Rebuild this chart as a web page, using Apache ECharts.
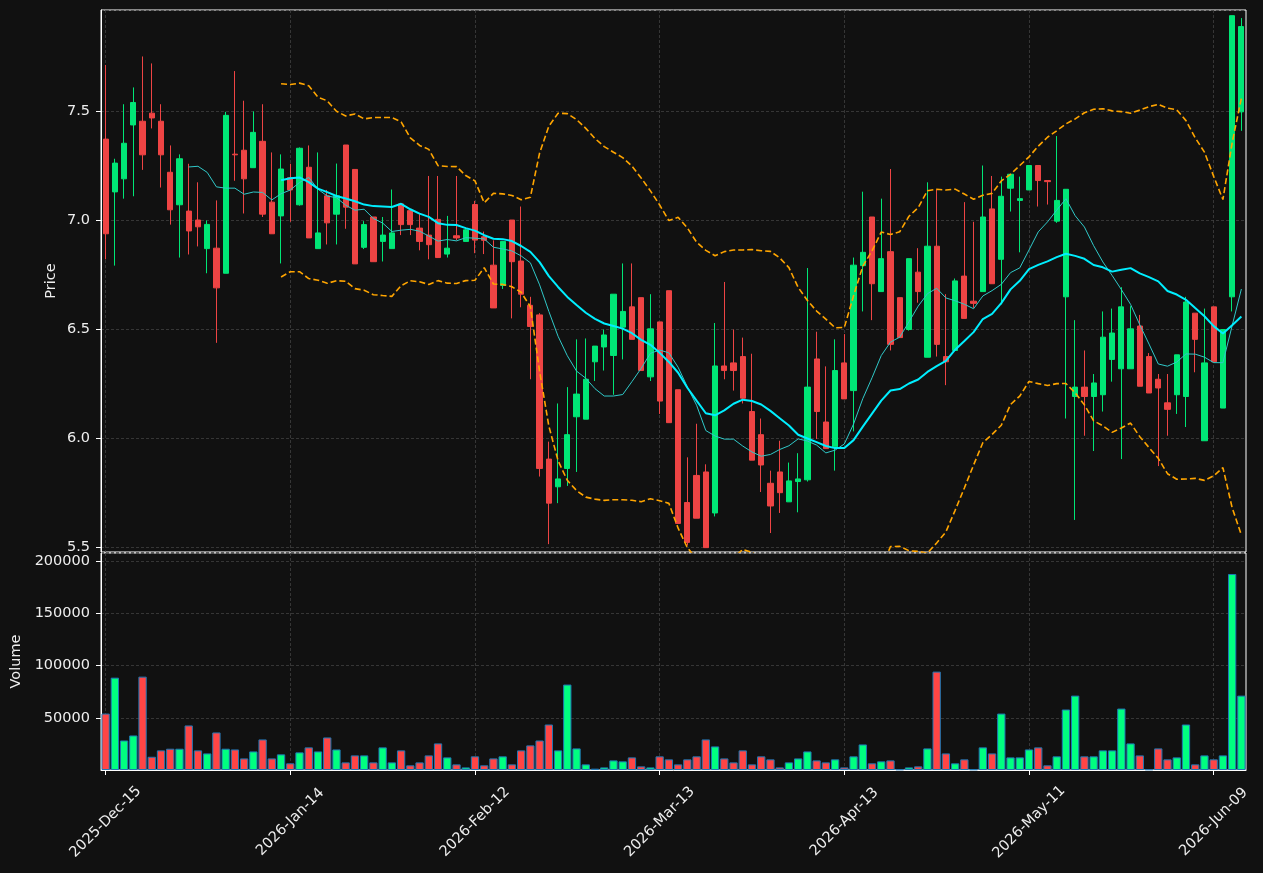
<!DOCTYPE html>
<html><head><meta charset="utf-8">
<script src="https://cdn.jsdelivr.net/npm/echarts@6/dist/echarts.min.js"></script>
<style>html,body{margin:0;padding:0;background:#111111;}#c{width:1263px;height:873px;}</style>
</head><body><div id="c"></div>
<script>
const dates = [
"2025-Dec-15","2025-Dec-16","2025-Dec-17","2025-Dec-18","2025-Dec-19","2025-Dec-22","2025-Dec-23","2025-Dec-24","2025-Dec-26","2025-Dec-29","2025-Dec-30","2025-Dec-31",
"2026-Jan-02","2026-Jan-05","2026-Jan-06","2026-Jan-07","2026-Jan-08","2026-Jan-09","2026-Jan-12","2026-Jan-13","2026-Jan-14","2026-Jan-15","2026-Jan-16",
"2026-Jan-20","2026-Jan-21","2026-Jan-22","2026-Jan-23","2026-Jan-26","2026-Jan-27","2026-Jan-28","2026-Jan-29","2026-Jan-30",
"2026-Feb-02","2026-Feb-03","2026-Feb-04","2026-Feb-05","2026-Feb-06","2026-Feb-09","2026-Feb-10","2026-Feb-11","2026-Feb-12","2026-Feb-13",
"2026-Feb-17","2026-Feb-18","2026-Feb-19","2026-Feb-20","2026-Feb-23","2026-Feb-24","2026-Feb-25","2026-Feb-26","2026-Feb-27",
"2026-Mar-02","2026-Mar-03","2026-Mar-04","2026-Mar-05","2026-Mar-06","2026-Mar-09","2026-Mar-10","2026-Mar-11","2026-Mar-12","2026-Mar-13",
"2026-Mar-16","2026-Mar-17","2026-Mar-18","2026-Mar-19","2026-Mar-20","2026-Mar-23","2026-Mar-24","2026-Mar-25","2026-Mar-26","2026-Mar-27",
"2026-Mar-30","2026-Mar-31","2026-Apr-01","2026-Apr-02","2026-Apr-06","2026-Apr-07","2026-Apr-08","2026-Apr-09","2026-Apr-10","2026-Apr-13",
"2026-Apr-14","2026-Apr-15","2026-Apr-16","2026-Apr-17","2026-Apr-20","2026-Apr-21","2026-Apr-22","2026-Apr-23","2026-Apr-24",
"2026-Apr-27","2026-Apr-28","2026-Apr-29","2026-Apr-30","2026-May-01","2026-May-04","2026-May-05","2026-May-06","2026-May-07","2026-May-08","2026-May-11",
"2026-May-12","2026-May-13","2026-May-14","2026-May-15","2026-May-18","2026-May-19","2026-May-20","2026-May-21","2026-May-22",
"2026-May-26","2026-May-27","2026-May-28","2026-May-29","2026-Jun-01","2026-Jun-02","2026-Jun-03","2026-Jun-04","2026-Jun-05","2026-Jun-08","2026-Jun-09",
"2026-Jun-10","2026-Jun-11","2026-Jun-12"];

const opens = [7.373,7.131,7.191,7.438,7.455,7.492,7.455,7.221,7.072,7.043,7.002,6.871,6.873,6.758,7.304,7.322,7.242,7.363,7.084,7.021,
7.196,7.072,7.244,6.871,7.113,7.029,7.346,7.234,6.877,7.016,6.904,6.871,7.076,7.045,6.965,6.933,7.005,6.846,6.930,6.904,
7.073,6.925,6.795,6.702,7.002,6.814,6.611,6.567,5.906,5.779,5.863,6.100,6.089,6.352,6.420,6.381,6.511,6.604,6.646,6.283,
6.535,6.678,6.224,5.707,5.831,5.847,5.659,6.333,6.347,6.376,6.124,6.018,5.795,5.847,5.710,5.803,5.811,6.365,6.076,5.962,
6.347,6.220,6.793,7.016,6.674,6.857,6.646,6.500,6.763,6.373,6.882,6.376,6.404,6.745,6.630,6.674,7.053,6.822,7.148,7.092,
7.140,7.252,7.183,6.997,6.650,6.193,6.236,6.193,6.201,6.363,6.320,6.320,6.516,6.376,6.272,6.164,6.201,6.193,6.575,5.990,
6.604,6.140,6.650,7.498];
const closes = [6.939,7.263,7.354,7.541,7.301,7.470,7.301,7.049,7.283,6.952,6.971,6.982,6.691,7.482,7.301,7.191,7.404,7.029,6.939,7.236,
7.140,7.331,6.920,6.943,6.989,7.113,7.061,6.801,6.981,6.811,6.933,6.943,6.981,6.981,6.904,6.889,6.830,6.873,6.920,6.957,
6.910,6.909,6.599,6.904,6.811,6.662,6.514,5.863,5.704,5.815,6.018,6.204,6.272,6.424,6.475,6.662,6.583,6.455,6.312,6.503,
6.172,6.073,5.611,5.524,5.635,5.500,6.333,6.312,6.312,6.185,5.901,5.879,5.691,5.752,5.806,5.815,6.236,6.124,5.954,6.312,
6.182,6.795,6.854,6.710,6.825,6.432,6.463,6.825,6.674,6.882,6.432,6.352,6.723,6.551,6.620,7.016,6.710,7.111,7.212,7.100,
7.252,7.183,7.178,7.092,7.143,6.236,6.193,6.255,6.465,6.484,6.604,6.503,6.240,6.209,6.232,6.134,6.384,6.626,6.455,6.347,
6.352,6.500,7.939,7.889];
const lows = [6.822,6.793,7.100,7.111,7.232,7.422,7.151,6.981,6.830,6.844,6.881,6.758,6.439,6.758,7.182,7.032,7.242,7.016,6.939,6.803,
6.994,7.068,6.920,6.871,6.890,6.890,6.962,6.801,6.869,6.811,6.812,6.871,6.933,6.933,6.863,6.822,6.830,6.830,6.909,6.904,
6.850,6.846,6.599,6.686,6.551,6.602,6.272,5.826,5.516,5.704,5.783,5.847,6.089,6.264,6.312,6.201,6.363,6.455,6.312,6.264,
6.113,6.073,5.611,5.510,5.635,5.500,5.643,6.272,6.220,6.161,5.901,5.755,5.567,5.659,5.710,5.662,5.803,5.998,5.954,5.853,
6.182,6.033,6.583,6.543,6.674,6.404,6.463,6.495,6.623,6.373,6.376,6.245,6.404,6.551,6.599,6.674,6.710,6.615,7.041,6.854,
7.140,7.064,7.073,6.989,6.092,5.627,6.013,5.943,6.124,6.261,5.906,6.320,6.240,6.209,5.874,6.013,6.113,6.053,6.304,5.990,
6.352,6.140,6.583,7.411];
const highs = [7.713,7.283,7.533,7.610,7.752,7.720,7.533,7.344,7.303,7.260,7.175,7.000,7.092,7.498,7.685,7.549,7.500,7.533,7.312,7.303,
7.260,7.335,7.344,7.312,7.140,7.261,7.346,7.234,6.997,7.016,7.016,7.142,7.076,7.053,7.029,7.204,7.204,7.021,7.204,6.965,
7.090,6.949,6.909,6.904,7.002,7.064,6.650,6.575,5.986,6.161,6.236,6.455,6.459,6.424,6.500,6.662,6.803,6.803,6.646,6.662,
6.535,6.678,6.224,5.914,6.068,5.882,6.530,6.718,6.500,6.463,6.389,6.092,5.853,5.990,5.890,5.933,6.782,6.490,6.331,6.455,
6.479,6.830,7.132,7.016,7.100,7.236,6.646,6.825,6.873,7.175,7.143,6.662,6.734,7.084,6.994,7.252,7.204,7.201,7.212,7.201,
7.252,7.252,7.183,7.387,7.143,6.543,6.404,6.296,6.583,6.596,6.694,6.607,6.567,6.392,6.296,6.296,6.384,6.650,6.575,6.596,
6.604,6.500,7.939,7.928];
const volumes = [54100,88500,28300,33100,89500,12700,18800,20400,20400,42700,18800,15900,36000,20400,19700,11100,17800,29300,11100,15000,
6400,16900,21700,17800,31200,19700,7300,14000,14000,7300,21700,7300,18800,4500,7300,14000,25500,12100,5400,2500,
13100,4500,11100,13100,5400,18800,23600,28300,43600,18800,81900,20700,5400,1300,2500,9200,8300,12100,3500,2500,
13100,10200,5400,10200,13100,29300,22600,11100,7300,18800,5400,13100,10200,2500,7300,11100,17800,9200,7300,10200,
2500,13100,24500,6400,8300,9200,600,2500,3500,20700,94300,15900,6400,10200,600,21700,15900,54100,12100,12100,
19700,21700,4500,13100,58000,71300,13100,13100,18800,18800,58900,25500,14000,600,20700,10200,12100,43600,5400,14000,
10200,14000,187900,71300];

// indicator lines derived from the closes (rolling mean / Bollinger, population std)
function sma(arr, n) {
  return arr.map((v, i) => {
    if (i < n - 1) return '-';
    let s = 0; for (let k = i - n + 1; k <= i; k++) s += arr[k];
    return +(s / n).toFixed(4);
  });
}
function band(arr, n, mult) {
  return arr.map((v, i) => {
    if (i < n - 1) return '-';
    let s = 0; for (let k = i - n + 1; k <= i; k++) s += arr[k];
    const m = s / n; let q = 0;
    for (let k = i - n + 1; k <= i; k++) q += (arr[k] - m) * (arr[k] - m);
    return +(m + mult * Math.sqrt(q / n)).toFixed(4);
  });
}
const ma10 = sma(closes, 10), ma20 = sma(closes, 20);
const bbUp = band(closes, 20, 2), bbLo = band(closes, 20, -2);

const candleData = opens.map((o, i) => [o, closes[i], lows[i], highs[i]]);
const volData = volumes.map((v, i) => ({
  value: v,
  itemStyle: { color: closes[i] >= opens[i] ? '#00ff80' : '#ff4545' }
}));

const FONT = 'DejaVu Sans';
const FS = 14.5;
const gridLine = { show: true, lineStyle: { color: '#404040', type: [3, 2], width: 0.8 } };
const chart = echarts.init(document.getElementById('c'), null, { renderer: 'canvas' });
chart.setOption({
  backgroundColor: '#111111',
  animation: false,
  textStyle: { fontFamily: FONT },
  grid: [
    { left: 101, top: 10, width: 1145, height: 542, show: true, borderColor: '#ffffff', borderWidth: 1, backgroundColor: 'transparent' },
    { left: 101, top: 553, width: 1145, height: 217, show: true, borderColor: '#ffffff', borderWidth: 1, backgroundColor: 'transparent' }
  ],
  xAxis: [
    { type: 'category', gridIndex: 0, data: dates, boundaryGap: true,
      axisLine: { show: false }, axisTick: { show: false }, axisLabel: { show: false },
      splitLine: Object.assign({ interval: 19, alignWithLabel: true }, gridLine) },
    { type: 'category', gridIndex: 1, data: dates, boundaryGap: true,
      axisLine: { show: true, lineStyle: { color: '#ffffff' } },
      axisTick: { show: true, interval: 19, alignWithLabel: true, length: 5, lineStyle: { color: '#ffffff' } },
      axisLabel: { interval: 19, rotate: 45, align: 'center', verticalAlign: 'middle', margin: 52,
        color: '#eeeeee', fontSize: FS, fontFamily: FONT },
      splitLine: Object.assign({ interval: 19, alignWithLabel: true }, gridLine) }
  ],
  yAxis: [
    { type: 'value', gridIndex: 0, min: 5.48, max: 7.965, splitNumber: 5, scale: true,
      name: 'Price', nameLocation: 'middle', nameGap: 42, nameRotate: 90, nameMoveOverlap: false,
      nameTextStyle: { color: '#eeeeee', fontSize: FS, fontFamily: FONT },
      axisLine: { show: true, lineStyle: { color: '#ffffff' } },
      axisTick: { show: true, length: 5, lineStyle: { color: '#ffffff' } },
      axisLabel: { color: '#eeeeee', fontSize: FS, fontFamily: FONT, margin: 11, showMinLabel: false, showMaxLabel: false,
        formatter: v => v.toFixed(1) },
      splitLine: gridLine },
    { type: 'value', gridIndex: 1, min: 0, max: 208000, splitNumber: 4,
      name: 'Volume', nameLocation: 'middle', nameGap: 77, nameRotate: 90, nameMoveOverlap: false,
      nameTextStyle: { color: '#eeeeee', fontSize: FS, fontFamily: FONT },
      axisLine: { show: true, lineStyle: { color: '#ffffff' } },
      axisTick: { show: true, length: 5, lineStyle: { color: '#ffffff' } },
      axisLabel: { color: '#eeeeee', fontSize: FS, fontFamily: FONT, margin: 11, showMinLabel: false, showMaxLabel: false,
        formatter: v => String(Math.round(v)) },
      splitLine: gridLine }
  ],
  series: [
    { type: 'candlestick', xAxisIndex: 0, yAxisIndex: 0, data: candleData, barWidth: '62%',
      itemStyle: { color: '#00e676', color0: '#ee4444', borderColor: '#00e676', borderColor0: '#ee4444', borderWidth: 1 } },
    { type: 'line', xAxisIndex: 0, yAxisIndex: 0, data: ma10, showSymbol: false, symbol: 'none',
      lineStyle: { color: '#30c8c8', width: 1 } },
    { type: 'line', xAxisIndex: 0, yAxisIndex: 0, data: ma20, showSymbol: false, symbol: 'none',
      lineStyle: { color: '#00eeff', width: 2 } },
    { type: 'line', xAxisIndex: 0, yAxisIndex: 0, data: bbUp, showSymbol: false, symbol: 'none',
      lineStyle: { color: '#ffa500', width: 1.6, type: [6, 3] } },
    { type: 'line', xAxisIndex: 0, yAxisIndex: 0, data: bbLo, showSymbol: false, symbol: 'none',
      lineStyle: { color: '#ffa500', width: 1.6, type: [6, 3] } },
    { type: 'bar', xAxisIndex: 1, yAxisIndex: 1, data: volData, barWidth: '90%',
      itemStyle: { borderColor: '#1f77b4', borderWidth: 1 } }
  ]
});
</script></body></html>
